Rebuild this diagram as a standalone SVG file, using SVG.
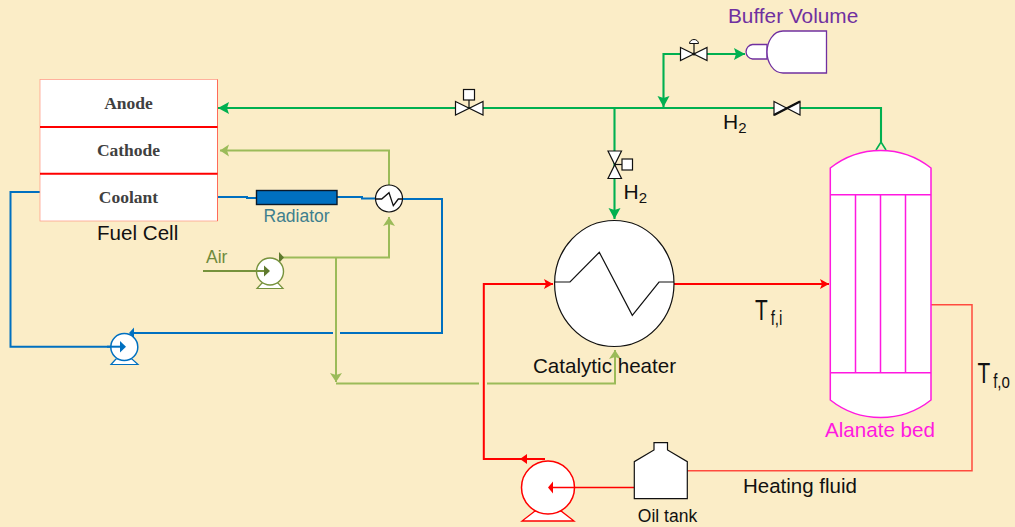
<svg xmlns="http://www.w3.org/2000/svg" width="1015" height="527" viewBox="0 0 1015 527">
<style>
text{font-family:"Liberation Sans",Arial,sans-serif;fill:#111}
.ser{font-family:"Liberation Serif","Times New Roman",serif;font-weight:bold;font-size:17.5px;fill:#404040;text-anchor:middle}
.l20{font-size:20.6px}
.sym{fill:#fff;stroke:#111;stroke-width:1.2;stroke-linejoin:miter}
.ln{fill:none;stroke-linejoin:miter}
.g{stroke:#00B050;stroke-width:2.1}
.lg{stroke:#9BBB59;stroke-width:2}
.b{stroke:#0070C0;stroke-width:2}
.r{stroke:#FF0000;stroke-width:2}
.r1{stroke:#FF4B3E;stroke-width:1.5}
.m{fill:#fff;stroke:#FF19E0;stroke-width:1.5}
.ml{fill:none;stroke:#FF19E0;stroke-width:1.5}
</style>
<defs>
<marker id="ag" markerUnits="userSpaceOnUse" markerWidth="14" markerHeight="14" refX="11" refY="6" orient="auto"><path d="M0 0L11 6L0 12L2 6Z" fill="#00B050"/></marker>
<marker id="alg" markerUnits="userSpaceOnUse" markerWidth="12" markerHeight="14" refX="9" refY="6" orient="auto"><path d="M0 0L9 6L0 12L2 6Z" fill="#9BBB59"/></marker>
<marker id="ar" markerUnits="userSpaceOnUse" markerWidth="12" markerHeight="12" refX="9" refY="5" orient="auto"><path d="M0 0L9 5L0 10L2 5Z" fill="#FF0000"/></marker>
</defs>
<rect width="1015" height="527" fill="#FBEDC7"/>

<g id="connectors">
<path class="ln g" d="M881 142V108H218" marker-end="url(#ag)"/>
<path class="ln g" d="M614.500 108V219" marker-end="url(#ag)"/>
<path class="ln g" d="M694 54H663.500V107" marker-end="url(#ag)"/>
<path class="ln g" d="M694 54H745" marker-end="url(#ag)"/>
<path fill="none" stroke="#00B050" stroke-width="1.600" d="M876 150L881 142L886 150"/>
<path class="ln lg" d="M389 185V150.500H220" marker-end="url(#alg)"/>
<path class="ln lg" d="M280 257.500H389V217" marker-end="url(#alg)"/>
<path class="ln lg" d="M336 257.500V382" marker-end="url(#alg)"/>
<path class="ln lg" d="M336 383.500H479M487 383.500H615V350" marker-end="url(#alg)"/>
<path fill="#5F7A2E" d="M279 252L284 257.500L279 263Z"/>
<path class="ln b" d="M40 192H10.500V346.700H112"/>
<path class="ln b" d="M217 197H247V198H256"/>
<path class="ln b" d="M337 197H362V198.500H376"/>
<path class="ln b" d="M402 199H442V333H340M333 333H130"/>
<path class="ln r" d="M674 284H829" marker-end="url(#ar)"/>
<path class="ln r" d="M545 459H483.800V284H553" marker-end="url(#ar)"/>
<path fill="#FF0000" d="M527 454L520 459L527 464Z"/>
<path class="ln r1" d="M931 304.700H972V470.700H687"/>
</g>

<g id="fuel-cell">
<rect x="40" y="79.500" width="177.500" height="141.500" fill="#fff" stroke="#FFA08C" stroke-width="0.800"/>
<path d="M217.500 79.500V221" stroke="#FF6A5A" stroke-width="1" fill="none"/>
<path d="M40 127H217.500M40 173.700H217.500" stroke="#FF0000" stroke-width="2" fill="none"/>
<text class="ser" x="128.500" y="108.500">Anode</text>
<text class="ser" x="128.500" y="155.500">Cathode</text>
<text class="ser" x="128.500" y="202.500">Coolant</text>
<text class="l20" x="97" y="240">Fuel Cell</text>
</g>

<g id="radiator">
<rect x="256.500" y="190.500" width="80.500" height="14" fill="#0070C0" stroke="#0A1A2A" stroke-width="1.400"/>
<text x="263.500" y="222" font-size="17.500" style="fill:#3E7F8E">Radiator</text>
</g>

<g id="air-heat-exchanger">
<circle class="sym" cx="389" cy="198.500" r="13.500"/>
<path fill="none" stroke="#111" stroke-width="1.300" d="M376 199H381.700L389 192.700L393.300 205.700L398.300 199H402"/>
</g>

<g id="air-pump">
<path d="M262 283L257 288.500H283L278 283Z" fill="#fff" stroke="#76923C" stroke-width="1.200"/>
<circle cx="270" cy="271.500" r="13.500" fill="#fff" stroke="#76923C" stroke-width="1.400"/>
<path d="M203 271H265" stroke="#76923C" stroke-width="2" fill="none"/>
<path d="M264 265.500L270 271L264 276.500Z" fill="#5F7A2E"/>
<text x="206" y="263" font-size="17.500" style="fill:#6F8B3C">Air</text>
</g>

<g id="coolant-pump">
<path d="M116 359L111 364.500H138L132 359Z" fill="#fff" stroke="#0070C0" stroke-width="1.200"/>
<circle cx="124.300" cy="347" r="13.500" fill="#fff" stroke="#0070C0" stroke-width="1.500"/>
<path d="M107 346.700H122" stroke="#0070C0" stroke-width="2" fill="none"/>
<path d="M120 341L126 346.700L120 352.500Z" fill="#0070C0"/>
<path d="M134 327.500L129 333L134 338.500Z" fill="#0070C0"/>
</g>

<g id="valve-anode">
<path class="sym" d="M455.500 101.500L483 115V101.500L455.500 115Z"/>
<path fill="none" stroke="#111" stroke-width="1.200" d="M469 108V100"/>
<rect class="sym" x="463.500" y="89.500" width="11" height="10.500"/>
</g>

<g id="valve-heater">
<path class="sym" d="M608 151H621.500L608 178.500H621.500Z"/>
<path fill="none" stroke="#111" stroke-width="1.200" d="M615 164.500H622"/>
<rect class="sym" x="622" y="159" width="10.500" height="11"/>
</g>

<g id="valve-buffer">
<path class="sym" d="M680.500 47.500L707 60.500V47.500L680.500 60.500Z"/>
<path fill="none" stroke="#111" stroke-width="1.200" d="M694 54V44"/>
<path fill="#fff" stroke="#111" stroke-width="1" d="M689.500 43.500A4.500 4 0 0 1 698.500 43.500Z"/>
<circle cx="694" cy="54" r="1.500" fill="#111"/>
</g>

<g id="gate-valve">
<path class="sym" d="M774 101.500L800 115V101.500L774 115Z"/>
<path fill="none" stroke="#111" stroke-width="2.400" d="M774 115L800 101.500"/>
</g>

<g id="buffer-volume">
<path d="M767 44.500H752.500A7.300 7.300 0 0 0 752.500 59H767Z" fill="#fff" stroke="#7030A0" stroke-width="1.300"/>
<path d="M826.500 31H783C773 31 767 42 767 52C767 62 773 73 783 73H826.500Z" fill="#fff" stroke="#7030A0" stroke-width="1.300"/>
<text x="728" y="23" font-size="20.800" style="fill:#7030A0">Buffer Volume</text>
</g>

<g id="catalytic-heater">
<ellipse cx="614.300" cy="283.500" rx="59.700" ry="63" fill="#fff" stroke="#111" stroke-width="1.200"/>
<path fill="none" stroke="#111" stroke-width="1.200" d="M554.700 282H570L599.300 252.300L632.300 315.300L659 282H674"/>
<text class="l20" x="533" y="373">Catalytic heater</text>
</g>

<g id="alanate-bed">
<path class="m" d="M830.300 168A81 81 0 0 1 931 168V400A81 81 0 0 1 830.300 400Z"/>
<path class="ml" d="M830.300 194.700H931M830.300 372.700H931M855.500 194.700V372.700M880.500 194.700V372.700M905.500 194.700V372.700"/>
<text class="l20" x="825" y="437" style="fill:#FF19E0">Alanate bed</text>
</g>

<g id="circulation-pump">
<path d="M535 511L522 521H574L561 511Z" fill="#fff" stroke="#FF0000" stroke-width="1.300"/>
<circle cx="548" cy="487.500" r="26.500" fill="#fff" stroke="#FF0000" stroke-width="1.500"/>
<path d="M634 487.500H552" stroke="#FF0000" stroke-width="1.400" fill="none"/>
<path d="M553 481.500L548 487.500L553 493.500Z" fill="#FF0000"/>
</g>

<g id="oil-tank">
<path class="sym" d="M634.300 498.700V461.700L654 450V442.700H667.500V450L687.300 461.700V498.700Z"/>
<text x="667.500" y="522" font-size="17.500" text-anchor="middle">Oil tank</text>
</g>

<g id="labels">
<text x="723" y="129" font-size="21">H<tspan font-size="15" dy="4">2</tspan></text>
<text x="623.500" y="199" font-size="21">H<tspan font-size="15" dy="4">2</tspan></text>
<text transform="translate(755 320) scale(.72 1)" font-size="29">T<tspan font-size="21" dx="4" dy="5">f,i</tspan></text>
<text transform="translate(977.500 383) scale(.72 1)" font-size="29">T<tspan font-size="21" dx="4" dy="5">f,o</tspan></text>
<text x="743" y="493" font-size="20.500">Heating fluid</text>
</g>
</svg>
